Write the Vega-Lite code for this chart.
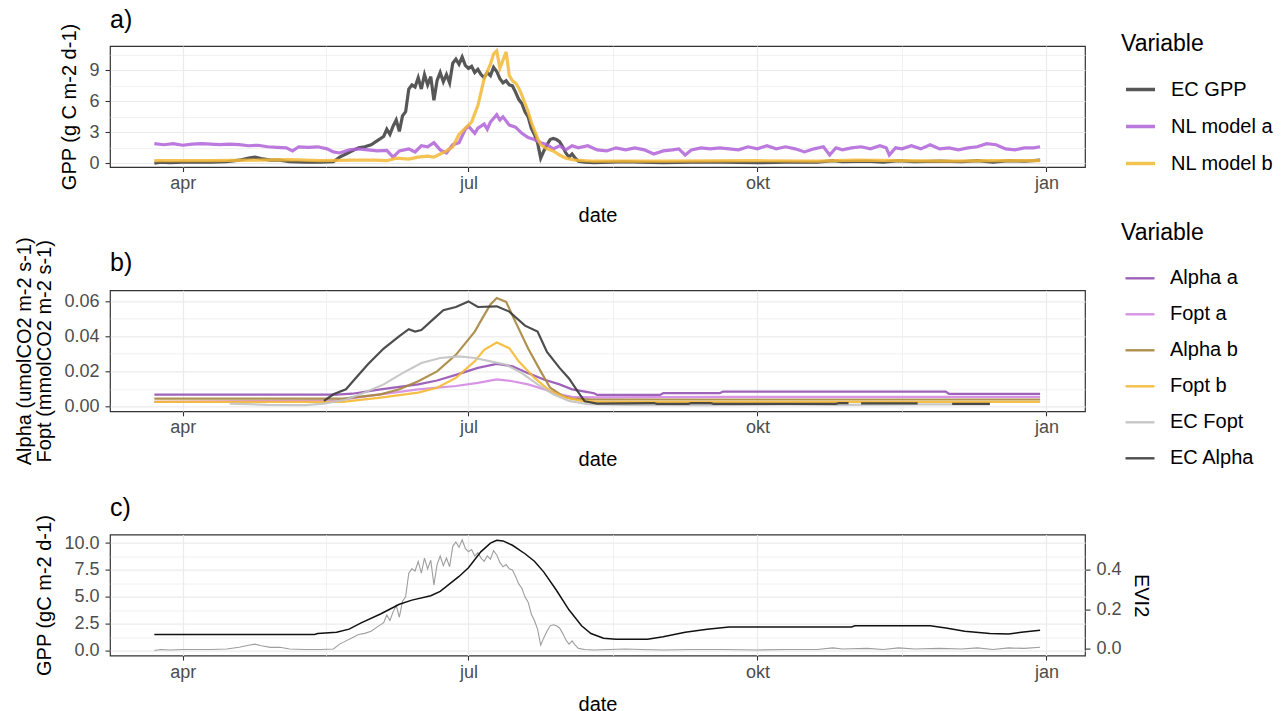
{
  "$schema": "https://vega.github.io/schema/vega-lite/v6.json",
  "background": "white",
  "padding": {"left": 14, "top": 7, "right": 5, "bottom": 0},
  "bounds": "flush",
  "spacing": 123.3,
  "datasets": {
    "gpp": [
      {"d": "2019-03-23", "s": "EC GPP", "v": 0.0},
      {"d": "2019-03-25", "s": "EC GPP", "v": 0.1},
      {"d": "2019-03-28", "s": "EC GPP", "v": 0.05},
      {"d": "2019-04-01", "s": "EC GPP", "v": 0.1},
      {"d": "2019-04-05", "s": "EC GPP", "v": 0.1},
      {"d": "2019-04-10", "s": "EC GPP", "v": 0.1},
      {"d": "2019-04-15", "s": "EC GPP", "v": 0.15},
      {"d": "2019-04-19", "s": "EC GPP", "v": 0.3},
      {"d": "2019-04-22", "s": "EC GPP", "v": 0.5},
      {"d": "2019-04-24", "s": "EC GPP", "v": 0.6},
      {"d": "2019-04-26", "s": "EC GPP", "v": 0.45},
      {"d": "2019-04-29", "s": "EC GPP", "v": 0.3},
      {"d": "2019-05-02", "s": "EC GPP", "v": 0.3},
      {"d": "2019-05-05", "s": "EC GPP", "v": 0.15},
      {"d": "2019-05-10", "s": "EC GPP", "v": 0.1},
      {"d": "2019-05-15", "s": "EC GPP", "v": 0.1},
      {"d": "2019-05-19", "s": "EC GPP", "v": 0.15},
      {"d": "2019-05-21", "s": "EC GPP", "v": 0.6},
      {"d": "2019-05-23", "s": "EC GPP", "v": 0.9},
      {"d": "2019-05-25", "s": "EC GPP", "v": 1.2},
      {"d": "2019-05-27", "s": "EC GPP", "v": 1.5},
      {"d": "2019-05-29", "s": "EC GPP", "v": 1.6},
      {"d": "2019-05-31", "s": "EC GPP", "v": 1.8},
      {"d": "2019-06-02", "s": "EC GPP", "v": 2.2},
      {"d": "2019-06-04", "s": "EC GPP", "v": 2.6},
      {"d": "2019-06-05", "s": "EC GPP", "v": 3.3},
      {"d": "2019-06-06", "s": "EC GPP", "v": 2.8},
      {"d": "2019-06-07", "s": "EC GPP", "v": 3.6},
      {"d": "2019-06-08", "s": "EC GPP", "v": 4.2},
      {"d": "2019-06-09", "s": "EC GPP", "v": 3.1},
      {"d": "2019-06-10", "s": "EC GPP", "v": 4.6},
      {"d": "2019-06-11", "s": "EC GPP", "v": 5.0},
      {"d": "2019-06-12", "s": "EC GPP", "v": 7.2},
      {"d": "2019-06-13", "s": "EC GPP", "v": 7.6},
      {"d": "2019-06-14", "s": "EC GPP", "v": 7.4},
      {"d": "2019-06-15", "s": "EC GPP", "v": 8.3},
      {"d": "2019-06-16", "s": "EC GPP", "v": 7.2},
      {"d": "2019-06-17", "s": "EC GPP", "v": 8.6},
      {"d": "2019-06-18", "s": "EC GPP", "v": 7.6},
      {"d": "2019-06-19", "s": "EC GPP", "v": 8.4},
      {"d": "2019-06-20", "s": "EC GPP", "v": 6.1},
      {"d": "2019-06-21", "s": "EC GPP", "v": 8.0},
      {"d": "2019-06-22", "s": "EC GPP", "v": 8.8},
      {"d": "2019-06-23", "s": "EC GPP", "v": 7.9},
      {"d": "2019-06-24", "s": "EC GPP", "v": 8.6},
      {"d": "2019-06-25", "s": "EC GPP", "v": 7.8},
      {"d": "2019-06-26", "s": "EC GPP", "v": 9.7},
      {"d": "2019-06-27", "s": "EC GPP", "v": 10.1},
      {"d": "2019-06-28", "s": "EC GPP", "v": 9.6},
      {"d": "2019-06-29", "s": "EC GPP", "v": 10.3},
      {"d": "2019-06-30", "s": "EC GPP", "v": 9.5},
      {"d": "2019-07-01", "s": "EC GPP", "v": 9.2},
      {"d": "2019-07-02", "s": "EC GPP", "v": 9.4},
      {"d": "2019-07-03", "s": "EC GPP", "v": 8.8},
      {"d": "2019-07-04", "s": "EC GPP", "v": 9.1},
      {"d": "2019-07-05", "s": "EC GPP", "v": 8.6},
      {"d": "2019-07-06", "s": "EC GPP", "v": 8.3},
      {"d": "2019-07-07", "s": "EC GPP", "v": 8.8},
      {"d": "2019-07-08", "s": "EC GPP", "v": 8.5},
      {"d": "2019-07-09", "s": "EC GPP", "v": 9.3},
      {"d": "2019-07-10", "s": "EC GPP", "v": 8.9},
      {"d": "2019-07-11", "s": "EC GPP", "v": 8.2},
      {"d": "2019-07-12", "s": "EC GPP", "v": 7.8},
      {"d": "2019-07-13", "s": "EC GPP", "v": 8.0},
      {"d": "2019-07-14", "s": "EC GPP", "v": 7.6},
      {"d": "2019-07-15", "s": "EC GPP", "v": 7.5},
      {"d": "2019-07-16", "s": "EC GPP", "v": 6.9},
      {"d": "2019-07-17", "s": "EC GPP", "v": 6.2},
      {"d": "2019-07-18", "s": "EC GPP", "v": 5.8},
      {"d": "2019-07-19", "s": "EC GPP", "v": 5.0},
      {"d": "2019-07-20", "s": "EC GPP", "v": 4.5},
      {"d": "2019-07-21", "s": "EC GPP", "v": 3.4},
      {"d": "2019-07-22", "s": "EC GPP", "v": 2.8},
      {"d": "2019-07-23", "s": "EC GPP", "v": 2.0},
      {"d": "2019-07-24", "s": "EC GPP", "v": 0.5},
      {"d": "2019-07-25", "s": "EC GPP", "v": 1.2},
      {"d": "2019-07-26", "s": "EC GPP", "v": 1.8},
      {"d": "2019-07-27", "s": "EC GPP", "v": 2.3},
      {"d": "2019-07-28", "s": "EC GPP", "v": 2.4},
      {"d": "2019-07-29", "s": "EC GPP", "v": 2.3},
      {"d": "2019-07-30", "s": "EC GPP", "v": 2.1},
      {"d": "2019-07-31", "s": "EC GPP", "v": 1.6},
      {"d": "2019-08-01", "s": "EC GPP", "v": 1.0},
      {"d": "2019-08-02", "s": "EC GPP", "v": 0.6},
      {"d": "2019-08-03", "s": "EC GPP", "v": 0.9},
      {"d": "2019-08-04", "s": "EC GPP", "v": 0.5},
      {"d": "2019-08-05", "s": "EC GPP", "v": 0.2},
      {"d": "2019-08-07", "s": "EC GPP", "v": 0.1},
      {"d": "2019-08-10", "s": "EC GPP", "v": 0.05},
      {"d": "2019-08-15", "s": "EC GPP", "v": 0.1},
      {"d": "2019-08-20", "s": "EC GPP", "v": 0.15},
      {"d": "2019-08-25", "s": "EC GPP", "v": 0.1},
      {"d": "2019-09-01", "s": "EC GPP", "v": 0.05},
      {"d": "2019-09-10", "s": "EC GPP", "v": 0.1},
      {"d": "2019-09-20", "s": "EC GPP", "v": 0.1},
      {"d": "2019-10-01", "s": "EC GPP", "v": 0.05},
      {"d": "2019-10-10", "s": "EC GPP", "v": 0.1},
      {"d": "2019-10-20", "s": "EC GPP", "v": 0.1},
      {"d": "2019-10-25", "s": "EC GPP", "v": 0.25},
      {"d": "2019-10-28", "s": "EC GPP", "v": 0.15},
      {"d": "2019-11-05", "s": "EC GPP", "v": 0.2},
      {"d": "2019-11-10", "s": "EC GPP", "v": 0.1},
      {"d": "2019-11-15", "s": "EC GPP", "v": 0.25},
      {"d": "2019-11-20", "s": "EC GPP", "v": 0.15},
      {"d": "2019-11-28", "s": "EC GPP", "v": 0.2},
      {"d": "2019-12-05", "s": "EC GPP", "v": 0.15},
      {"d": "2019-12-10", "s": "EC GPP", "v": 0.25},
      {"d": "2019-12-15", "s": "EC GPP", "v": 0.1},
      {"d": "2019-12-20", "s": "EC GPP", "v": 0.25},
      {"d": "2019-12-25", "s": "EC GPP", "v": 0.2},
      {"d": "2019-12-30", "s": "EC GPP", "v": 0.3},

      {"d": "2019-03-23", "s": "NL model a", "v": 1.9},
      {"d": "2019-03-26", "s": "NL model a", "v": 1.8},
      {"d": "2019-03-29", "s": "NL model a", "v": 1.9},
      {"d": "2019-04-01", "s": "NL model a", "v": 1.75},
      {"d": "2019-04-04", "s": "NL model a", "v": 1.85},
      {"d": "2019-04-07", "s": "NL model a", "v": 1.9},
      {"d": "2019-04-10", "s": "NL model a", "v": 1.85},
      {"d": "2019-04-13", "s": "NL model a", "v": 1.8},
      {"d": "2019-04-16", "s": "NL model a", "v": 1.85},
      {"d": "2019-04-19", "s": "NL model a", "v": 1.8},
      {"d": "2019-04-22", "s": "NL model a", "v": 1.7},
      {"d": "2019-04-25", "s": "NL model a", "v": 1.75},
      {"d": "2019-04-28", "s": "NL model a", "v": 1.6},
      {"d": "2019-05-01", "s": "NL model a", "v": 1.55},
      {"d": "2019-05-04", "s": "NL model a", "v": 1.5},
      {"d": "2019-05-06", "s": "NL model a", "v": 1.2},
      {"d": "2019-05-08", "s": "NL model a", "v": 1.6},
      {"d": "2019-05-11", "s": "NL model a", "v": 1.55},
      {"d": "2019-05-14", "s": "NL model a", "v": 1.6},
      {"d": "2019-05-17", "s": "NL model a", "v": 1.4},
      {"d": "2019-05-19", "s": "NL model a", "v": 1.1},
      {"d": "2019-05-21", "s": "NL model a", "v": 1.0},
      {"d": "2019-05-24", "s": "NL model a", "v": 1.3},
      {"d": "2019-05-27", "s": "NL model a", "v": 1.4},
      {"d": "2019-05-30", "s": "NL model a", "v": 1.3},
      {"d": "2019-06-02", "s": "NL model a", "v": 1.2},
      {"d": "2019-06-05", "s": "NL model a", "v": 1.25},
      {"d": "2019-06-07", "s": "NL model a", "v": 0.6},
      {"d": "2019-06-09", "s": "NL model a", "v": 1.2},
      {"d": "2019-06-12", "s": "NL model a", "v": 1.4},
      {"d": "2019-06-14", "s": "NL model a", "v": 1.1},
      {"d": "2019-06-16", "s": "NL model a", "v": 1.7},
      {"d": "2019-06-18", "s": "NL model a", "v": 1.6},
      {"d": "2019-06-20", "s": "NL model a", "v": 2.0},
      {"d": "2019-06-22", "s": "NL model a", "v": 1.3},
      {"d": "2019-06-24", "s": "NL model a", "v": 1.0},
      {"d": "2019-06-26", "s": "NL model a", "v": 1.8},
      {"d": "2019-06-28", "s": "NL model a", "v": 2.0},
      {"d": "2019-06-30", "s": "NL model a", "v": 3.3},
      {"d": "2019-07-01", "s": "NL model a", "v": 3.6},
      {"d": "2019-07-03", "s": "NL model a", "v": 2.9},
      {"d": "2019-07-04", "s": "NL model a", "v": 3.4},
      {"d": "2019-07-06", "s": "NL model a", "v": 3.8},
      {"d": "2019-07-07", "s": "NL model a", "v": 3.3},
      {"d": "2019-07-08", "s": "NL model a", "v": 4.0},
      {"d": "2019-07-10", "s": "NL model a", "v": 4.7},
      {"d": "2019-07-11", "s": "NL model a", "v": 4.2},
      {"d": "2019-07-12", "s": "NL model a", "v": 4.5},
      {"d": "2019-07-14", "s": "NL model a", "v": 3.7},
      {"d": "2019-07-16", "s": "NL model a", "v": 3.5},
      {"d": "2019-07-18", "s": "NL model a", "v": 2.9},
      {"d": "2019-07-20", "s": "NL model a", "v": 2.5},
      {"d": "2019-07-22", "s": "NL model a", "v": 2.3},
      {"d": "2019-07-24", "s": "NL model a", "v": 2.0},
      {"d": "2019-07-26", "s": "NL model a", "v": 1.8},
      {"d": "2019-07-28", "s": "NL model a", "v": 1.4},
      {"d": "2019-07-30", "s": "NL model a", "v": 1.7},
      {"d": "2019-08-01", "s": "NL model a", "v": 1.3},
      {"d": "2019-08-03", "s": "NL model a", "v": 1.7},
      {"d": "2019-08-05", "s": "NL model a", "v": 1.5},
      {"d": "2019-08-08", "s": "NL model a", "v": 1.7},
      {"d": "2019-08-11", "s": "NL model a", "v": 1.3},
      {"d": "2019-08-14", "s": "NL model a", "v": 1.2},
      {"d": "2019-08-17", "s": "NL model a", "v": 1.5},
      {"d": "2019-08-20", "s": "NL model a", "v": 1.3},
      {"d": "2019-08-23", "s": "NL model a", "v": 1.5},
      {"d": "2019-08-26", "s": "NL model a", "v": 1.3},
      {"d": "2019-08-29", "s": "NL model a", "v": 0.9},
      {"d": "2019-09-01", "s": "NL model a", "v": 1.2},
      {"d": "2019-09-04", "s": "NL model a", "v": 1.3},
      {"d": "2019-09-06", "s": "NL model a", "v": 1.4},
      {"d": "2019-09-08", "s": "NL model a", "v": 0.8},
      {"d": "2019-09-10", "s": "NL model a", "v": 1.3},
      {"d": "2019-09-13", "s": "NL model a", "v": 1.5},
      {"d": "2019-09-16", "s": "NL model a", "v": 1.4},
      {"d": "2019-09-19", "s": "NL model a", "v": 1.5},
      {"d": "2019-09-22", "s": "NL model a", "v": 1.4},
      {"d": "2019-09-25", "s": "NL model a", "v": 1.3},
      {"d": "2019-09-28", "s": "NL model a", "v": 1.6},
      {"d": "2019-10-01", "s": "NL model a", "v": 1.4},
      {"d": "2019-10-04", "s": "NL model a", "v": 1.7},
      {"d": "2019-10-07", "s": "NL model a", "v": 1.4},
      {"d": "2019-10-10", "s": "NL model a", "v": 1.6},
      {"d": "2019-10-13", "s": "NL model a", "v": 1.4},
      {"d": "2019-10-16", "s": "NL model a", "v": 1.1},
      {"d": "2019-10-19", "s": "NL model a", "v": 1.4},
      {"d": "2019-10-22", "s": "NL model a", "v": 1.6},
      {"d": "2019-10-24", "s": "NL model a", "v": 0.8},
      {"d": "2019-10-26", "s": "NL model a", "v": 1.5},
      {"d": "2019-10-28", "s": "NL model a", "v": 1.3},
      {"d": "2019-10-31", "s": "NL model a", "v": 1.5},
      {"d": "2019-11-03", "s": "NL model a", "v": 1.6},
      {"d": "2019-11-06", "s": "NL model a", "v": 1.4},
      {"d": "2019-11-09", "s": "NL model a", "v": 1.7},
      {"d": "2019-11-11", "s": "NL model a", "v": 1.5},
      {"d": "2019-11-12", "s": "NL model a", "v": 0.8},
      {"d": "2019-11-14", "s": "NL model a", "v": 1.5},
      {"d": "2019-11-16", "s": "NL model a", "v": 1.4},
      {"d": "2019-11-19", "s": "NL model a", "v": 1.7},
      {"d": "2019-11-22", "s": "NL model a", "v": 1.4},
      {"d": "2019-11-25", "s": "NL model a", "v": 1.8},
      {"d": "2019-11-28", "s": "NL model a", "v": 1.4},
      {"d": "2019-12-01", "s": "NL model a", "v": 1.5},
      {"d": "2019-12-04", "s": "NL model a", "v": 1.3},
      {"d": "2019-12-07", "s": "NL model a", "v": 1.5},
      {"d": "2019-12-10", "s": "NL model a", "v": 1.6},
      {"d": "2019-12-13", "s": "NL model a", "v": 1.9},
      {"d": "2019-12-16", "s": "NL model a", "v": 1.8},
      {"d": "2019-12-19", "s": "NL model a", "v": 1.4},
      {"d": "2019-12-22", "s": "NL model a", "v": 1.3},
      {"d": "2019-12-25", "s": "NL model a", "v": 1.5},
      {"d": "2019-12-28", "s": "NL model a", "v": 1.5},
      {"d": "2019-12-30", "s": "NL model a", "v": 1.6},

      {"d": "2019-03-23", "s": "NL model b", "v": 0.25},
      {"d": "2019-04-10", "s": "NL model b", "v": 0.25},
      {"d": "2019-04-25", "s": "NL model b", "v": 0.3},
      {"d": "2019-05-05", "s": "NL model b", "v": 0.35},
      {"d": "2019-05-15", "s": "NL model b", "v": 0.25},
      {"d": "2019-05-25", "s": "NL model b", "v": 0.3},
      {"d": "2019-06-01", "s": "NL model b", "v": 0.3},
      {"d": "2019-06-05", "s": "NL model b", "v": 0.25},
      {"d": "2019-06-08", "s": "NL model b", "v": 0.5},
      {"d": "2019-06-12", "s": "NL model b", "v": 0.4},
      {"d": "2019-06-15", "s": "NL model b", "v": 0.6},
      {"d": "2019-06-18", "s": "NL model b", "v": 0.7},
      {"d": "2019-06-20", "s": "NL model b", "v": 0.6},
      {"d": "2019-06-22", "s": "NL model b", "v": 0.9},
      {"d": "2019-06-24", "s": "NL model b", "v": 1.2},
      {"d": "2019-06-26", "s": "NL model b", "v": 1.6},
      {"d": "2019-06-28", "s": "NL model b", "v": 2.8},
      {"d": "2019-06-30", "s": "NL model b", "v": 3.4},
      {"d": "2019-07-01", "s": "NL model b", "v": 3.7},
      {"d": "2019-07-02", "s": "NL model b", "v": 4.0},
      {"d": "2019-07-03", "s": "NL model b", "v": 4.8},
      {"d": "2019-07-04", "s": "NL model b", "v": 5.6},
      {"d": "2019-07-05", "s": "NL model b", "v": 6.9},
      {"d": "2019-07-06", "s": "NL model b", "v": 8.2},
      {"d": "2019-07-07", "s": "NL model b", "v": 8.9},
      {"d": "2019-07-08", "s": "NL model b", "v": 9.6},
      {"d": "2019-07-09", "s": "NL model b", "v": 10.6},
      {"d": "2019-07-10", "s": "NL model b", "v": 10.9},
      {"d": "2019-07-11", "s": "NL model b", "v": 9.2},
      {"d": "2019-07-12", "s": "NL model b", "v": 10.0},
      {"d": "2019-07-13", "s": "NL model b", "v": 10.8},
      {"d": "2019-07-14", "s": "NL model b", "v": 8.5},
      {"d": "2019-07-15", "s": "NL model b", "v": 8.0},
      {"d": "2019-07-16", "s": "NL model b", "v": 7.8},
      {"d": "2019-07-17", "s": "NL model b", "v": 7.3},
      {"d": "2019-07-18", "s": "NL model b", "v": 6.6},
      {"d": "2019-07-19", "s": "NL model b", "v": 5.8},
      {"d": "2019-07-20", "s": "NL model b", "v": 5.0},
      {"d": "2019-07-21", "s": "NL model b", "v": 4.0},
      {"d": "2019-07-22", "s": "NL model b", "v": 3.2},
      {"d": "2019-07-23", "s": "NL model b", "v": 2.4},
      {"d": "2019-07-24", "s": "NL model b", "v": 1.8},
      {"d": "2019-07-26", "s": "NL model b", "v": 1.4},
      {"d": "2019-07-28", "s": "NL model b", "v": 1.2},
      {"d": "2019-07-30", "s": "NL model b", "v": 0.8},
      {"d": "2019-08-01", "s": "NL model b", "v": 0.5},
      {"d": "2019-08-04", "s": "NL model b", "v": 0.3},
      {"d": "2019-08-10", "s": "NL model b", "v": 0.2},
      {"d": "2019-09-01", "s": "NL model b", "v": 0.2},
      {"d": "2019-10-01", "s": "NL model b", "v": 0.25},
      {"d": "2019-10-20", "s": "NL model b", "v": 0.2},
      {"d": "2019-11-01", "s": "NL model b", "v": 0.3},
      {"d": "2019-11-15", "s": "NL model b", "v": 0.25},
      {"d": "2019-12-01", "s": "NL model b", "v": 0.2},
      {"d": "2019-12-15", "s": "NL model b", "v": 0.25},
      {"d": "2019-12-30", "s": "NL model b", "v": 0.25}
    ],
    "params": [
      {"d": "2019-03-23", "s": "Alpha a", "v": 0.0068},
      {"d": "2019-05-20", "s": "Alpha a", "v": 0.0068},
      {"d": "2019-05-25", "s": "Alpha a", "v": 0.0073},
      {"d": "2019-06-03", "s": "Alpha a", "v": 0.0098},
      {"d": "2019-06-15", "s": "Alpha a", "v": 0.0126},
      {"d": "2019-06-21", "s": "Alpha a", "v": 0.0148},
      {"d": "2019-06-27", "s": "Alpha a", "v": 0.018},
      {"d": "2019-07-04", "s": "Alpha a", "v": 0.022},
      {"d": "2019-07-10", "s": "Alpha a", "v": 0.0242},
      {"d": "2019-07-15", "s": "Alpha a", "v": 0.0229},
      {"d": "2019-07-20", "s": "Alpha a", "v": 0.019},
      {"d": "2019-07-25", "s": "Alpha a", "v": 0.0154},
      {"d": "2019-07-30", "s": "Alpha a", "v": 0.0126},
      {"d": "2019-08-03", "s": "Alpha a", "v": 0.0098},
      {"d": "2019-08-08", "s": "Alpha a", "v": 0.0082},
      {"d": "2019-08-10", "s": "Alpha a", "v": 0.0076},
      {"d": "2019-08-11", "s": "Alpha a", "v": 0.0066},
      {"d": "2019-08-31", "s": "Alpha a", "v": 0.0066},
      {"d": "2019-09-01", "s": "Alpha a", "v": 0.0076},
      {"d": "2019-09-19", "s": "Alpha a", "v": 0.0076},
      {"d": "2019-09-20", "s": "Alpha a", "v": 0.0085},
      {"d": "2019-11-30", "s": "Alpha a", "v": 0.0085},
      {"d": "2019-12-01", "s": "Alpha a", "v": 0.0072},
      {"d": "2019-12-30", "s": "Alpha a", "v": 0.0072},

      {"d": "2019-03-23", "s": "Fopt a", "v": 0.0027},
      {"d": "2019-05-20", "s": "Fopt a", "v": 0.0035},
      {"d": "2019-06-03", "s": "Fopt a", "v": 0.0069},
      {"d": "2019-06-15", "s": "Fopt a", "v": 0.0098},
      {"d": "2019-06-27", "s": "Fopt a", "v": 0.0117},
      {"d": "2019-07-04", "s": "Fopt a", "v": 0.0135},
      {"d": "2019-07-10", "s": "Fopt a", "v": 0.0154},
      {"d": "2019-07-15", "s": "Fopt a", "v": 0.0144},
      {"d": "2019-07-20", "s": "Fopt a", "v": 0.0126},
      {"d": "2019-07-25", "s": "Fopt a", "v": 0.0098},
      {"d": "2019-07-30", "s": "Fopt a", "v": 0.007},
      {"d": "2019-08-03", "s": "Fopt a", "v": 0.0055},
      {"d": "2019-08-10", "s": "Fopt a", "v": 0.0052},
      {"d": "2019-09-20", "s": "Fopt a", "v": 0.0055},
      {"d": "2019-12-30", "s": "Fopt a", "v": 0.0055},

      {"d": "2019-03-23", "s": "Alpha b", "v": 0.0045},
      {"d": "2019-05-22", "s": "Alpha b", "v": 0.0045},
      {"d": "2019-06-03", "s": "Alpha b", "v": 0.0069},
      {"d": "2019-06-09", "s": "Alpha b", "v": 0.0098},
      {"d": "2019-06-15", "s": "Alpha b", "v": 0.0144},
      {"d": "2019-06-21", "s": "Alpha b", "v": 0.02},
      {"d": "2019-06-27", "s": "Alpha b", "v": 0.0294},
      {"d": "2019-07-03", "s": "Alpha b", "v": 0.0426},
      {"d": "2019-07-06", "s": "Alpha b", "v": 0.052},
      {"d": "2019-07-08", "s": "Alpha b", "v": 0.058},
      {"d": "2019-07-10", "s": "Alpha b", "v": 0.0617},
      {"d": "2019-07-13", "s": "Alpha b", "v": 0.0595},
      {"d": "2019-07-16", "s": "Alpha b", "v": 0.048},
      {"d": "2019-07-20", "s": "Alpha b", "v": 0.033},
      {"d": "2019-07-24", "s": "Alpha b", "v": 0.02},
      {"d": "2019-07-27", "s": "Alpha b", "v": 0.0107},
      {"d": "2019-07-31", "s": "Alpha b", "v": 0.006},
      {"d": "2019-08-03", "s": "Alpha b", "v": 0.0045},
      {"d": "2019-08-10", "s": "Alpha b", "v": 0.004},
      {"d": "2019-12-30", "s": "Alpha b", "v": 0.004},

      {"d": "2019-03-23", "s": "Fopt b", "v": 0.0027},
      {"d": "2019-05-22", "s": "Fopt b", "v": 0.0027},
      {"d": "2019-06-03", "s": "Fopt b", "v": 0.0051},
      {"d": "2019-06-15", "s": "Fopt b", "v": 0.0079},
      {"d": "2019-06-21", "s": "Fopt b", "v": 0.0107},
      {"d": "2019-06-27", "s": "Fopt b", "v": 0.0163},
      {"d": "2019-07-03", "s": "Fopt b", "v": 0.0257},
      {"d": "2019-07-06", "s": "Fopt b", "v": 0.0323},
      {"d": "2019-07-10", "s": "Fopt b", "v": 0.0364},
      {"d": "2019-07-14", "s": "Fopt b", "v": 0.0332},
      {"d": "2019-07-17", "s": "Fopt b", "v": 0.0257},
      {"d": "2019-07-22", "s": "Fopt b", "v": 0.0163},
      {"d": "2019-07-27", "s": "Fopt b", "v": 0.0088},
      {"d": "2019-08-01", "s": "Fopt b", "v": 0.0051},
      {"d": "2019-08-06", "s": "Fopt b", "v": 0.0032},
      {"d": "2019-08-12", "s": "Fopt b", "v": 0.0027},
      {"d": "2019-12-30", "s": "Fopt b", "v": 0.0027},

      {"d": "2019-04-16", "s": "EC Fopt", "v": 0.0017},
      {"d": "2019-04-28", "s": "EC Fopt", "v": 0.001},
      {"d": "2019-05-10", "s": "EC Fopt", "v": 0.0008},
      {"d": "2019-05-16", "s": "EC Fopt", "v": 0.0017},
      {"d": "2019-05-23", "s": "EC Fopt", "v": 0.004},
      {"d": "2019-05-29", "s": "EC Fopt", "v": 0.008},
      {"d": "2019-06-04", "s": "EC Fopt", "v": 0.0126},
      {"d": "2019-06-10", "s": "EC Fopt", "v": 0.019},
      {"d": "2019-06-16", "s": "EC Fopt", "v": 0.0248},
      {"d": "2019-06-22", "s": "EC Fopt", "v": 0.0276},
      {"d": "2019-06-28", "s": "EC Fopt", "v": 0.0285},
      {"d": "2019-07-03", "s": "EC Fopt", "v": 0.0276},
      {"d": "2019-07-08", "s": "EC Fopt", "v": 0.0257},
      {"d": "2019-07-13", "s": "EC Fopt", "v": 0.0238},
      {"d": "2019-07-18", "s": "EC Fopt", "v": 0.019},
      {"d": "2019-07-23", "s": "EC Fopt", "v": 0.0126},
      {"d": "2019-07-28", "s": "EC Fopt", "v": 0.007},
      {"d": "2019-08-02", "s": "EC Fopt", "v": 0.0032},
      {"d": "2019-08-08", "s": "EC Fopt", "v": 0.0013},
      {"d": "2019-08-20", "s": "EC Fopt", "v": 0.001},
      {"d": "2019-09-15", "s": "EC Fopt", "v": 0.0008},
      {"d": "2019-10-10", "s": "EC Fopt", "v": 0.0012},
      {"d": "2019-10-26", "s": "EC Fopt", "v": 0.001},
      {"d": "2019-11-20", "s": "EC Fopt", "v": 0.0012},
      {"d": "2019-12-14", "s": "EC Fopt", "v": 0.0012},

      {"d": "2019-05-16", "s": "EC Alpha", "v": 0.0032},
      {"d": "2019-05-19", "s": "EC Alpha", "v": 0.007},
      {"d": "2019-05-23", "s": "EC Alpha", "v": 0.0098},
      {"d": "2019-05-26", "s": "EC Alpha", "v": 0.016},
      {"d": "2019-05-30", "s": "EC Alpha", "v": 0.024},
      {"d": "2019-06-04", "s": "EC Alpha", "v": 0.033},
      {"d": "2019-06-09", "s": "EC Alpha", "v": 0.04},
      {"d": "2019-06-12", "s": "EC Alpha", "v": 0.044},
      {"d": "2019-06-14", "s": "EC Alpha", "v": 0.0426},
      {"d": "2019-06-16", "s": "EC Alpha", "v": 0.0435},
      {"d": "2019-06-20", "s": "EC Alpha", "v": 0.05},
      {"d": "2019-06-23", "s": "EC Alpha", "v": 0.0548},
      {"d": "2019-06-27", "s": "EC Alpha", "v": 0.0566},
      {"d": "2019-07-01", "s": "EC Alpha", "v": 0.0598},
      {"d": "2019-07-04", "s": "EC Alpha", "v": 0.0566},
      {"d": "2019-07-10", "s": "EC Alpha", "v": 0.057},
      {"d": "2019-07-14", "s": "EC Alpha", "v": 0.054},
      {"d": "2019-07-19", "s": "EC Alpha", "v": 0.046},
      {"d": "2019-07-23", "s": "EC Alpha", "v": 0.0426},
      {"d": "2019-07-26", "s": "EC Alpha", "v": 0.031},
      {"d": "2019-07-30", "s": "EC Alpha", "v": 0.022},
      {"d": "2019-08-02", "s": "EC Alpha", "v": 0.016},
      {"d": "2019-08-05", "s": "EC Alpha", "v": 0.008},
      {"d": "2019-08-07", "s": "EC Alpha", "v": 0.003},
      {"d": "2019-08-11", "s": "EC Alpha", "v": 0.0017},
      {"d": "2019-08-29", "s": "EC Alpha", "v": 0.002},
      {"d": "2019-08-30", "s": "EC Alpha", "v": 0.0015},
      {"d": "2019-09-09", "s": "EC Alpha", "v": 0.0015},
      {"d": "2019-09-10", "s": "EC Alpha", "v": 0.002},
      {"d": "2019-09-16", "s": "EC Alpha", "v": 0.002},
      {"d": "2019-09-17", "s": "EC Alpha", "v": 0.0015},
      {"d": "2019-10-26", "s": "EC Alpha", "v": 0.0015},
      {"d": "2019-10-27", "s": "EC Alpha", "v": 0.002},
      {"d": "2019-10-30", "s": "EC Alpha", "v": 0.002},
      {"d": "2019-10-31", "s": "EC Alpha", "v": null},
      {"d": "2019-11-03", "s": "EC Alpha", "v": 0.0018},
      {"d": "2019-11-21", "s": "EC Alpha", "v": 0.0018},
      {"d": "2019-11-22", "s": "EC Alpha", "v": null},
      {"d": "2019-12-02", "s": "EC Alpha", "v": 0.0015},
      {"d": "2019-12-14", "s": "EC Alpha", "v": 0.0015}
    ],
    "evi": [
      {"d": "2019-03-23", "evi2": 0.073},
      {"d": "2019-05-13", "evi2": 0.073},
      {"d": "2019-05-14", "evi2": 0.078},
      {"d": "2019-05-20", "evi2": 0.084},
      {"d": "2019-05-24", "evi2": 0.1},
      {"d": "2019-05-28", "evi2": 0.133},
      {"d": "2019-06-03", "evi2": 0.177},
      {"d": "2019-06-09", "evi2": 0.226},
      {"d": "2019-06-13", "evi2": 0.247},
      {"d": "2019-06-19", "evi2": 0.269},
      {"d": "2019-06-22", "evi2": 0.291},
      {"d": "2019-06-25", "evi2": 0.329},
      {"d": "2019-06-28", "evi2": 0.367},
      {"d": "2019-07-01", "evi2": 0.411},
      {"d": "2019-07-05", "evi2": 0.493},
      {"d": "2019-07-08", "evi2": 0.536},
      {"d": "2019-07-10", "evi2": 0.55},
      {"d": "2019-07-12", "evi2": 0.547},
      {"d": "2019-07-15", "evi2": 0.525},
      {"d": "2019-07-19", "evi2": 0.482},
      {"d": "2019-07-22", "evi2": 0.444},
      {"d": "2019-07-25", "evi2": 0.389},
      {"d": "2019-07-29", "evi2": 0.297},
      {"d": "2019-08-02", "evi2": 0.198},
      {"d": "2019-08-06", "evi2": 0.117},
      {"d": "2019-08-09", "evi2": 0.078},
      {"d": "2019-08-13", "evi2": 0.054},
      {"d": "2019-08-17", "evi2": 0.049},
      {"d": "2019-08-27", "evi2": 0.049},
      {"d": "2019-09-01", "evi2": 0.062},
      {"d": "2019-09-08", "evi2": 0.084},
      {"d": "2019-09-15", "evi2": 0.1},
      {"d": "2019-09-22", "evi2": 0.111},
      {"d": "2019-10-31", "evi2": 0.111},
      {"d": "2019-11-01", "evi2": 0.117},
      {"d": "2019-11-25", "evi2": 0.117},
      {"d": "2019-11-30", "evi2": 0.106},
      {"d": "2019-12-06", "evi2": 0.089},
      {"d": "2019-12-14", "evi2": 0.078},
      {"d": "2019-12-20", "evi2": 0.076},
      {"d": "2019-12-24", "evi2": 0.084},
      {"d": "2019-12-30", "evi2": 0.095}
    ]
  },
  "vconcat": [
    {
      "title": {"text": "a)", "offset": -9.5},
      "width": 975,
      "height": 121,
      "data": {"name": "gpp"},
      "mark": {"type": "line", "strokeWidth": 3.2, "opacity": 0.85},
      "encoding": {
        "x": {
          "field": "d", "type": "temporal",
          "scale": {"type": "utc", "nice": false, "domain": [{"year": 2019, "month": 3, "date": 8, "hours": 21, "utc": true}, {"year": 2020, "month": 1, "date": 13, "hours": 7, "utc": true}]},
          "axis": {
            "title": "date",
            "values": [
              {"year": 2019, "month": 4, "date": 1, "utc": true},
              {"year": 2019, "month": 5, "date": 16, "hours": 12, "utc": true},
              {"year": 2019, "month": 7, "date": 1, "utc": true},
              {"year": 2019, "month": 8, "date": 16, "utc": true},
              {"year": 2019, "month": 10, "date": 1, "utc": true},
              {"year": 2019, "month": 11, "date": 16, "utc": true},
              {"year": 2020, "month": 1, "date": 1, "utc": true}
            ],
            "labelExpr": "utcdate(datum.value) === 1 ? ['jan','feb','mar','apr','maj','jun','jul','aug','sep','okt','nov','dec'][utcmonth(datum.value)] : ''",
            "tickOpacity": {"condition": {"test": "utcdate(datum.value) !== 1", "value": 0}, "value": 1},
            "gridWidth": {"condition": {"test": "utcdate(datum.value) !== 1", "value": 0.7}, "value": 1.2}
          }
        },
        "y": {
          "field": "v", "type": "quantitative",
          "scale": {"domain": [-0.36, 11.37], "nice": false, "zero": false},
          "axis": {
            "title": "GPP (g C m-2 d-1)",
            "values": [0, 1.5, 3, 4.5, 6, 7.5, 9, 10.5],
            "labelExpr": "datum.value % 3 === 0 ? datum.label : ''",
            "tickOpacity": {"condition": {"test": "datum.value % 3 !== 0", "value": 0}, "value": 1},
            "gridWidth": {"condition": {"test": "datum.value % 3 !== 0", "value": 0.7}, "value": 1.2}
          }
        },
        "color": {
          "field": "s", "type": "nominal",
          "scale": {"domain": ["EC GPP", "NL model a", "NL model b"], "range": ["#3a3a3a", "#b062d8", "#f2b935"]},
          "legend": {"title": "Variable", "orient": "none", "direction": "vertical", "legendX": 1011, "legendY": -13, "symbolStrokeWidth": 3.5}
        }
      }
    },
    {
      "title": {"text": "b)", "offset": -53.5},
      "width": 975,
      "height": 121,
      "data": {"name": "params"},
      "mark": {"type": "line", "strokeWidth": 2.2, "opacity": 0.9, "invalid": "break-paths-show-domains"},
      "encoding": {
        "x": {
          "field": "d", "type": "temporal",
          "scale": {"type": "utc", "nice": false, "domain": [{"year": 2019, "month": 3, "date": 8, "hours": 21, "utc": true}, {"year": 2020, "month": 1, "date": 13, "hours": 7, "utc": true}]},
          "axis": {
            "title": "date",
            "values": [
              {"year": 2019, "month": 4, "date": 1, "utc": true},
              {"year": 2019, "month": 5, "date": 16, "hours": 12, "utc": true},
              {"year": 2019, "month": 7, "date": 1, "utc": true},
              {"year": 2019, "month": 8, "date": 16, "utc": true},
              {"year": 2019, "month": 10, "date": 1, "utc": true},
              {"year": 2019, "month": 11, "date": 16, "utc": true},
              {"year": 2020, "month": 1, "date": 1, "utc": true}
            ],
            "labelExpr": "utcdate(datum.value) === 1 ? ['jan','feb','mar','apr','maj','jun','jul','aug','sep','okt','nov','dec'][utcmonth(datum.value)] : ''",
            "tickOpacity": {"condition": {"test": "utcdate(datum.value) !== 1", "value": 0}, "value": 1},
            "gridWidth": {"condition": {"test": "utcdate(datum.value) !== 1", "value": 0.7}, "value": 1.2}
          }
        },
        "y": {
          "field": "v", "type": "quantitative",
          "scale": {"domain": [-0.0027, 0.0661], "nice": false, "zero": false},
          "axis": {
            "title": ["Alpha (umolCO2 m-2 s-1)", "Fopt (mmolCO2 m-2 s-1)"],
            "titleLineHeight": 20,
            "format": ".2f",
            "values": [0, 0.01, 0.02, 0.03, 0.04, 0.05, 0.06],
            "labelExpr": "round(datum.value * 100) % 2 === 0 ? datum.label : ''",
            "tickOpacity": {"condition": {"test": "round(datum.value * 100) % 2 === 1", "value": 0}, "value": 1},
            "gridWidth": {"condition": {"test": "round(datum.value * 100) % 2 === 1", "value": 0.7}, "value": 1.2}
          }
        },
        "color": {
          "field": "s", "type": "nominal",
          "scale": {"domain": ["Alpha a", "Fopt a", "Alpha b", "Fopt b", "EC Fopt", "EC Alpha"], "range": ["#9552b3", "#d488e2", "#a6863f", "#f5b932", "#c2c2c2", "#3a3a3a"]},
          "legend": {"title": "Variable", "orient": "none", "direction": "vertical", "legendX": 1011, "legendY": -68, "symbolStrokeWidth": 2.4}
        }
      }
    },
    {
      "title": {"text": "c)", "offset": -6.5},
      "width": 975,
      "height": 121,
      "layer": [
        {
          "data": {"name": "gpp"},
          "transform": [{"filter": "datum.s === 'EC GPP'"}],
          "mark": {"type": "line", "strokeWidth": 1.1, "color": "#9e9e9e"},
          "encoding": {
            "x": {
              "field": "d", "type": "temporal",
              "scale": {"type": "utc", "nice": false, "domain": [{"year": 2019, "month": 3, "date": 8, "hours": 21, "utc": true}, {"year": 2020, "month": 1, "date": 13, "hours": 7, "utc": true}]},
              "axis": {
                "title": "date",
                "values": [
                  {"year": 2019, "month": 4, "date": 1, "utc": true},
                  {"year": 2019, "month": 5, "date": 16, "hours": 12, "utc": true},
                  {"year": 2019, "month": 7, "date": 1, "utc": true},
                  {"year": 2019, "month": 8, "date": 16, "utc": true},
                  {"year": 2019, "month": 10, "date": 1, "utc": true},
                  {"year": 2019, "month": 11, "date": 16, "utc": true},
                  {"year": 2020, "month": 1, "date": 1, "utc": true}
                ],
                "labelExpr": "utcdate(datum.value) === 1 ? ['jan','feb','mar','apr','maj','jun','jul','aug','sep','okt','nov','dec'][utcmonth(datum.value)] : ''",
                "tickOpacity": {"condition": {"test": "utcdate(datum.value) !== 1", "value": 0}, "value": 1},
                "gridWidth": {"condition": {"test": "utcdate(datum.value) !== 1", "value": 0.7}, "value": 1.2}
              }
            },
            "y": {
              "field": "v", "type": "quantitative",
              "scale": {"domain": [-0.47, 10.79], "nice": false, "zero": false},
              "axis": {
                "title": "GPP (gC m-2 d-1)",
                "format": ".1f",
                "values": [0, 1.25, 2.5, 3.75, 5, 6.25, 7.5, 8.75, 10],
                "labelExpr": "datum.value % 2.5 === 0 ? datum.label : ''",
                "tickOpacity": {"condition": {"test": "datum.value % 2.5 !== 0", "value": 0}, "value": 1},
                "gridWidth": {"condition": {"test": "datum.value % 2.5 !== 0", "value": 0.7}, "value": 1.2}
              }
            }
          }
        },
        {
          "data": {"name": "evi"},
          "mark": {"type": "line", "strokeWidth": 1.5, "color": "#111111"},
          "encoding": {
            "x": {"field": "d", "type": "temporal"},
            "y": {
              "field": "evi2", "type": "quantitative",
              "scale": {"domain": [-0.034, 0.579], "nice": false, "zero": false},
              "axis": {
                "title": "EVI2",
                "orient": "right",
                "titleAngle": 90,
                "titleBaseline": "bottom",
                "grid": false,
                "format": ".1f",
                "values": [0, 0.2, 0.4]
              }
            }
          }
        }
      ],
      "resolve": {"scale": {"y": "independent"}}
    }
  ],
  "resolve": {"scale": {"color": "independent"}},
  "config": {
    "font": "Liberation Sans",
    "view": {"stroke": "#333333", "strokeWidth": 1.2},
    "title": {"fontSize": 25, "fontWeight": "normal", "anchor": "start", "frame": "group", "color": "#000000", "baseline": "alphabetic"},
    "axis": {
      "domain": false,
      "tickColor": "#333333",
      "tickWidth": 1.1,
      "labelColor": "#4d4d4d",
      "labelFontSize": 18,
      "titleFontSize": 20,
      "titleFontWeight": "normal",
      "titleColor": "#000000",
      "titlePadding": 9,
      "gridColor": "#ebebeb"
    },
    "axisX": {"tickSize": 4.5, "labelPadding": 3, "titlePadding": 13},
    "axisY": {"tickSize": 5, "labelPadding": 6},
    "legend": {
      "titleFontSize": 23,
      "titleFontWeight": "normal",
      "titleColor": "#000000",
      "titlePadding": 17,
      "labelFontSize": 20,
      "labelColor": "#000000",
      "labelOffset": 14,
      "symbolOffset": 3,
      "symbolType": "stroke",
      "symbolSize": 841,
      "rowPadding": 10
    }
  }
}
